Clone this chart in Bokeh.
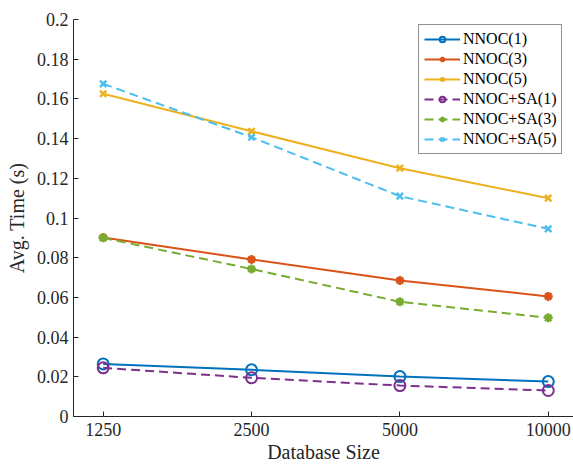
from bokeh.plotting import figure
from bokeh.models import FixedTicker, Legend, LegendItem, Range1d
from bokeh.embed import file_html
from bokeh.resources import INLINE

db_sizes = [1250, 2500, 5000, 10000]
x_tick_labels = ["1250", "2500", "5000", "10000"]
y_ticks = [0, 0.02, 0.04, 0.06, 0.08, 0.1, 0.12, 0.14, 0.16, 0.18, 0.2]
y_tick_labels = ["0", "0.02", "0.04", "0.06", "0.08", "0.1", "0.12", "0.14", "0.16", "0.18", "0.2"]

nnoc_1 = [0.0265, 0.0235, 0.0201, 0.0176]
nnoc_3 = [0.0902, 0.0791, 0.0685, 0.0605]
nnoc_5 = [0.1626, 0.1437, 0.1251, 0.1100]
nnoc_sa_1 = [0.0245, 0.0195, 0.0156, 0.0131]
nnoc_sa_3 = [0.0900, 0.0743, 0.0578, 0.0497]
nnoc_sa_5 = [0.1676, 0.1407, 0.1110, 0.0945]

series_names = ["NNOC(1)", "NNOC(3)", "NNOC(5)", "NNOC+SA(1)", "NNOC+SA(3)", "NNOC+SA(5)"]
series_values = [nnoc_1, nnoc_3, nnoc_5, nnoc_sa_1, nnoc_sa_3, nnoc_sa_5]
colors = ["#0072BD", "#D95319", "#EDB120", "#7E2F8E", "#77AC30", "#4DBEEE"]
markers = ["circle", "asterisk", "x", "circle", "asterisk", "x"]
dashes = ["solid", "solid", "solid", "9 5", "9 5", "9 5"]

FONT = "'Liberation Serif', 'Times New Roman', serif"

p = figure(width=573, height=466, output_backend="svg", toolbar_location=None,
           x_axis_type="log",
           x_range=Range1d(1250 * 2 ** -0.2, 10000 * 2 ** 0.17),
           y_range=Range1d(0, 0.2),
           min_border_left=73, min_border_right=0, min_border_top=19, min_border_bottom=50)
p.outline_line_color = None
p.grid.visible = False
p.background_fill_color = "white"
p.border_fill_color = "white"

items = []
for name, vals, c, m, d in zip(series_names, series_values, colors, markers, dashes):
    r1 = p.line(db_sizes, vals, line_color=c, line_width=2, line_dash=d)
    if m == "circle":
        r2 = p.scatter(db_sizes, vals, marker="circle", size=11, line_color=c,
                       fill_color=None, line_width=2)
    else:
        r2 = p.scatter(db_sizes, vals, marker=m, size=9, line_color=c,
                       fill_color=c, line_width=2.5)
    items.append(LegendItem(label=name, renderers=[r1, r2]))

# axes
p.xaxis.ticker = FixedTicker(ticks=db_sizes)
p.xaxis.major_label_overrides = {k: v for k, v in zip(db_sizes, x_tick_labels)}
p.yaxis.ticker = FixedTicker(ticks=y_ticks)
p.yaxis.major_label_overrides = {k: v for k, v in zip(y_ticks, y_tick_labels)}
for ax in (p.xaxis, p.yaxis):
    ax.minor_tick_line_color = None
    ax.major_tick_in = 5
    ax.major_tick_out = 0
    ax.axis_line_color = "#262626"
    ax.major_tick_line_color = "#262626"
    ax.major_label_text_font = FONT
    ax.major_label_text_font_size = "18px"
    ax.major_label_text_color = "#262626"
    ax.axis_label_text_font = FONT
    ax.axis_label_text_font_size = "20px"
    ax.axis_label_text_font_style = "normal"
    ax.axis_label_text_color = "#262626"
p.xaxis.axis_label = "Database Size"
p.yaxis.axis_label = "Avg. Time (s)"
p.xaxis.major_label_standoff = 6
p.xaxis.axis_label_standoff = 2
p.yaxis.major_label_standoff = 5
p.yaxis.axis_label_standoff = 6

legend = Legend(items=items, location=(345, 262))
legend.label_text_font = FONT
legend.label_text_font_size = "16px"
legend.label_text_color = "black"
legend.glyph_width = 36
legend.glyph_height = 14
legend.label_height = 14
legend.label_standoff = 3
legend.spacing = 2
legend.padding = 5
legend.margin = 0
legend.border_line_color = "#262626"
legend.border_line_width = 1
legend.background_fill_color = "white"
legend.background_fill_alpha = 1
p.add_layout(legend, "center")

open("out.html", "w").write(file_html(p, INLINE))
